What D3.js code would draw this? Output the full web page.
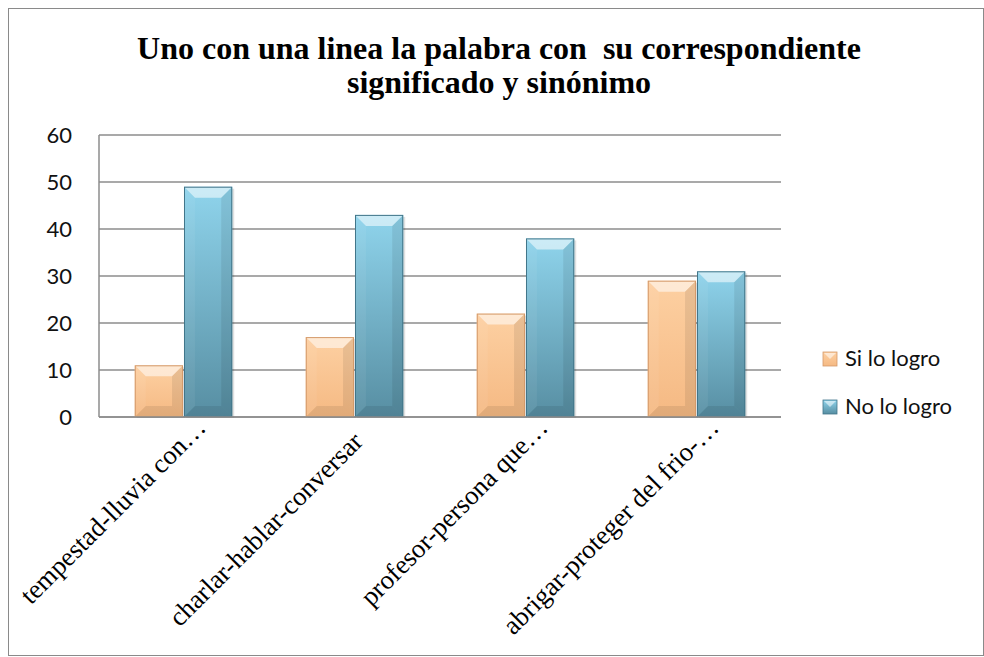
<!DOCTYPE html>
<html>
<head>
<meta charset="utf-8">
<script src="https://cdn.jsdelivr.net/npm/d3@7"></script>
<style>
  body { margin: 0; background: #fff; }
  svg { display: block; }
</style>
</head>
<body>
<div id="chart"></div>
<script>
// datos de la grafica
const categorias = [
    "tempestad-lluvia con\u2026",
    "charlar-hablar-conversar",
    "profesor-persona que\u2026",
    "abrigar-proteger del frio-\u2026"
];
const series = ["Si lo logro", "No lo logro"];
const siLoLogro = [11, 17, 22, 29];
const noLoLogro = [49, 43, 38, 31];
const ticksY = [0, 10, 20, 30, 40, 50, 60];
const tituloLineas = ["Uno con una linea la palabra con  su correspondiente", "significado y sin\u00f3nimo"];

const width = 984, height = 657;
const svg = d3.select("#chart").append("svg")
    .attr("width", width)
    .attr("height", height);

const defs = svg.append("defs");
const colores = {
    "Si lo logro": { top: "#fdd0a2", bottom: "#f5b983", edge: "#d49a6a" },
    "No lo logro": { top: "#8fd4ec", bottom: "#578ea2", edge: "#42768a" }
};
series.forEach((s, i) => {
    const g = defs.append("linearGradient")
        .attr("id", "grad" + i)
        .attr("x1", 0).attr("y1", 0).attr("x2", 0).attr("y2", 1);
    g.append("stop").attr("offset", "0%").attr("stop-color", colores[s].top);
    g.append("stop").attr("offset", "100%").attr("stop-color", colores[s].bottom);
});

// borde exterior
svg.append("rect")
    .attr("x", 8.5).attr("y", 8.5)
    .attr("width", 975).attr("height", 647)
    .attr("fill", "none")
    .attr("stroke", "#8a8a8a")
    .attr("stroke-width", 1);

// titulo
svg.append("text")
    .attr("x", 499)
    .attr("y", 59)
    .attr("text-anchor", "middle")
    .attr("font-family", "'Liberation Serif', 'Times New Roman', serif")
    .attr("font-weight", "bold")
    .attr("font-size", "32px")
    .selectAll("tspan")
    .data(tituloLineas)
    .enter().append("tspan")
    .attr("x", 499)
    .attr("dy", (d, i) => i === 0 ? 0 : 34)
    .style("white-space", "pre")
    .text(d => d);

const x = d3.scaleBand()
    .domain(categorias)
    .range([98, 782])
    .paddingInner(0.43)
    .paddingOuter(0.215);

const xs = d3.scaleBand()
    .domain(series)
    .range([0, x.bandwidth()])
    .paddingInner(0.02);

const y = d3.scaleLinear()
    .domain([0, 60])
    .range([417, 135]);

// lineas de la cuadricula
svg.append("g")
    .selectAll("line")
    .data(ticksY)
    .enter().append("line")
    .attr("x1", 99)
    .attr("x2", 781)
    .attr("y1", d => y(d))
    .attr("y2", d => y(d))
    .attr("stroke", "#8c8c8c")
    .attr("stroke-width", 1.5);

svg.append("line")
    .attr("x1", 99).attr("x2", 99)
    .attr("y1", y(60)).attr("y2", y(0))
    .attr("stroke", "#8c8c8c")
    .attr("stroke-width", 1.5);

// etiquetas eje y
svg.append("g")
    .selectAll("text")
    .data(ticksY)
    .enter().append("text")
    .attr("x", 72)
    .attr("y", d => y(d) + 8)
    .attr("text-anchor", "end")
    .attr("font-family", "Lato, 'Open Sans', sans-serif")
    .attr("font-size", "22px")
    .attr("fill", "#111")
    .text(d => d);

// barras con bisel
const filas = categorias.map((c, i) => [
    { cat: c, serie: series[0], valor: siLoLogro[i], idx: 0 },
    { cat: c, serie: series[1], valor: noLoLogro[i], idx: 1 }
]).flat();

const barras = svg.append("g")
    .selectAll("g")
    .data(filas)
    .enter().append("g");

function bisel(sel, w, h, b) {
    b = Math.min(b, h / 2);
    sel.append("polygon") // arriba
        .attr("points", `0,0 ${w},0 ${w - b},${b} ${b},${b}`)
        .attr("fill", "#fff").attr("opacity", 0.55);
    sel.append("polygon") // izquierda
        .attr("points", `0,0 ${b},${b} ${b},${h - b} 0,${h}`)
        .attr("fill", "#fff").attr("opacity", 0.06);
    sel.append("polygon") // derecha
        .attr("points", `${w},0 ${w},${h} ${w - b},${h - b} ${w - b},${b}`)
        .attr("fill", "#000").attr("opacity", 0.08);
    sel.append("polygon") // abajo
        .attr("points", `0,${h} ${w},${h} ${w - b},${h - b} ${b},${h - b}`)
        .attr("fill", "#000").attr("opacity", 0.08);
}

barras.each(function(d) {
    const g = d3.select(this);
    const bx = x(d.cat) + xs(d.serie);
    const w = xs.bandwidth();
    const by = y(d.valor);
    const h = y(0) - y(d.valor);
    g.attr("transform", `translate(${bx},${by})`);
    g.append("rect")
        .attr("x", 2).attr("y", 2)
        .attr("width", w).attr("height", h - 1)
        .attr("fill", "#000").attr("opacity", 0.12);
    g.append("rect")
        .attr("width", w).attr("height", h)
        .attr("fill", `url(#grad${d.idx})`);
    bisel(g, w, h, 11);
    g.append("rect")
        .attr("x", 0.5).attr("y", 0.5)
        .attr("width", w - 1).attr("height", h - 1)
        .attr("fill", "none")
        .attr("stroke", colores[d.serie].edge)
        .attr("stroke-width", 1);
});

// linea base
svg.append("line")
    .attr("x1", 99).attr("x2", 781)
    .attr("y1", y(0)).attr("y2", y(0))
    .attr("stroke", "#8c8c8c")
    .attr("stroke-width", 1.5);

// etiquetas eje x (rotadas)
svg.append("g")
    .selectAll("text")
    .data(categorias)
    .enter().append("text")
    .attr("transform", d => `translate(${x(d) + x.bandwidth() / 2 + 24},429) rotate(-45)`)
    .attr("dx", d => d.endsWith("\u2026") ? 0 : -20)
    .attr("text-anchor", "end")
    .attr("font-family", "'Liberation Serif', 'Times New Roman', serif")
    .attr("font-size", "26.7px")
    .attr("fill", "#000")
    .text(d => d);

// leyenda
const leyenda = svg.append("g")
    .selectAll("g")
    .data(series)
    .enter().append("g")
    .attr("transform", (d, i) => `translate(823,${352 + i * 48})`);

leyenda.append("rect")
    .attr("width", 14).attr("height", 14)
    .attr("fill", (d, i) => `url(#grad${i})`)
    .attr("stroke", d => colores[d].edge)
    .attr("stroke-width", 0.8);
leyenda.append("polygon")
    .attr("points", "1,1 13,1 7,7")
    .attr("fill", "#fff").attr("opacity", 0.55);
leyenda.append("text")
    .attr("x", 22)
    .attr("y", 14)
    .attr("font-family", "Lato, 'Open Sans', sans-serif")
    .attr("font-size", "22px")
    .attr("fill", "#111")
    .text(d => d);
</script>
</body>
</html>
